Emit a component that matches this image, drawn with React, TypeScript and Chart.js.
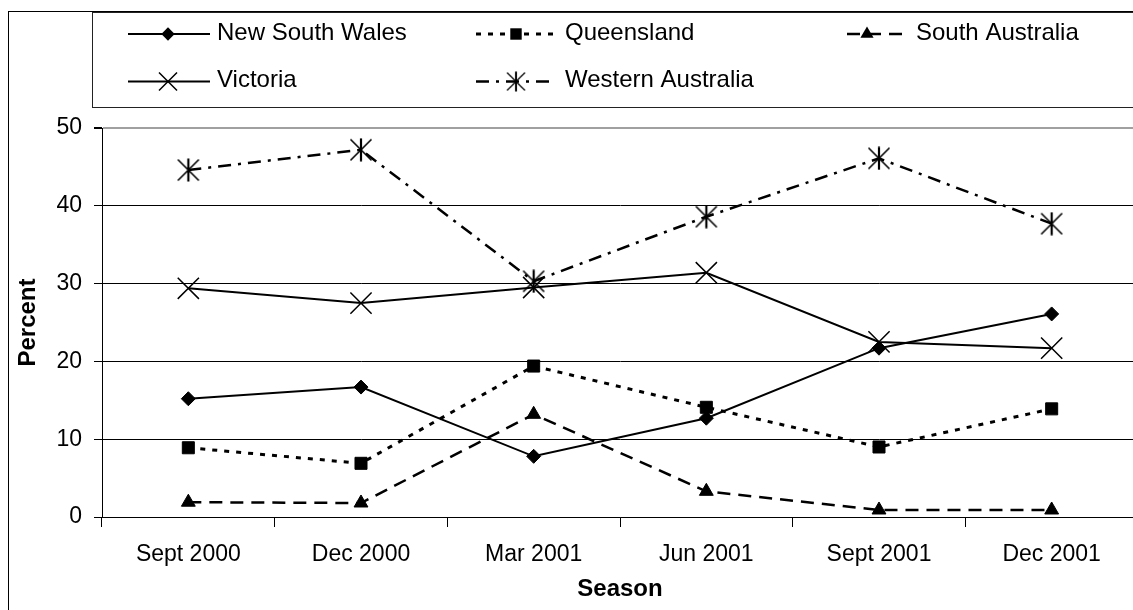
import { useEffect, useRef } from 'react';
import { Chart, registerables } from 'chart.js';

Chart.register(...registerables);

// ---- data ----
const categories = ['Sept 2000', 'Dec 2000', 'Mar 2001', 'Jun 2001', 'Sept 2001', 'Dec 2001'];
const newSouthWales = [15.2, 16.7, 7.8, 12.7, 21.7, 26.1];
const queensland = [8.9, 6.9, 19.4, 14.1, 9.0, 13.9];
const southAustralia = [1.9, 1.8, 13.2, 3.3, 0.9, 0.9];
const victoria = [29.4, 27.5, 29.5, 31.4, 22.5, 21.7];
const westernAustralia = [44.6, 47.2, 30.3, 38.6, 46.1, 37.7];
const seriesLabels = ['New South Wales', 'Queensland', 'South Australia', 'Victoria', 'Western Australia'];
const yMin = 0;
const yMax = 50;
const yStep = 10;
const xTitle = 'Season';
const yTitle = 'Percent';

const FONT = '"Liberation Sans", Arial, Helvetica, sans-serif';

type Marker = 'rectRot' | 'rect' | 'triangle' | 'crossRot' | 'asterisk';
interface SeriesStyle { dash: number[]; width: number; marker: Marker; radius: number; }

const seriesStyles: SeriesStyle[] = [
  { dash: [], width: 2, marker: 'rectRot', radius: 7 },
  { dash: [5, 7], width: 3, marker: 'rect', radius: 8.5 },
  { dash: [13, 8], width: 2.5, marker: 'triangle', radius: 8 },
  { dash: [], width: 2, marker: 'crossRot', radius: 15 },
  { dash: [13, 7, 3, 7], width: 2.5, marker: 'asterisk', radius: 11 },
];

// legend layout (canvas coordinates)
const legendCols = [
  { lineStart: 120, lineEnd: 202, marker: 160, text: 209 },
  { lineStart: 468, lineEnd: 545, marker: 508, text: 557 },
  { lineStart: 839, lineEnd: 899, marker: 859, text: 908 },
];
const legendRows = [23, 70.5];
const legendSlots = [
  { col: 0, row: 0 },
  { col: 1, row: 0 },
  { col: 2, row: 0 },
  { col: 0, row: 1 },
  { col: 1, row: 1 },
];

function makeAsterisk(): HTMLCanvasElement {
  const c = document.createElement('canvas');
  c.width = 24;
  c.height = 24;
  const g = c.getContext('2d')!;
  g.strokeStyle = '#000';
  g.lineWidth = 1.6;
  g.beginPath();
  g.moveTo(1.5, 1.5);
  g.lineTo(22.5, 22.5);
  g.moveTo(22.5, 1.5);
  g.lineTo(1.5, 22.5);
  g.stroke();
  g.lineWidth = 2.2;
  g.beginPath();
  g.moveTo(12, 0.5);
  g.lineTo(12, 23.5);
  g.stroke();
  return c;
}

function drawMarker(ctx: CanvasRenderingContext2D, m: Marker, x: number, y: number, r: number, star: HTMLCanvasElement) {
  ctx.save();
  ctx.fillStyle = '#000';
  ctx.strokeStyle = '#000';
  ctx.setLineDash([]);
  ctx.beginPath();
  if (m === 'rectRot') {
    ctx.moveTo(x, y - r);
    ctx.lineTo(x + r, y);
    ctx.lineTo(x, y + r);
    ctx.lineTo(x - r, y);
    ctx.closePath();
    ctx.fill();
  } else if (m === 'rect') {
    const h = r * Math.SQRT1_2;
    ctx.rect(x - h, y - h, 2 * h, 2 * h);
    ctx.fill();
  } else if (m === 'triangle') {
    ctx.moveTo(x, y - r);
    ctx.lineTo(x + r * Math.sin((2 * Math.PI) / 3), y + r / 2);
    ctx.lineTo(x - r * Math.sin((2 * Math.PI) / 3), y + r / 2);
    ctx.closePath();
    ctx.fill();
  } else if (m === 'crossRot') {
    const o = r * Math.SQRT1_2 * 0.85;
    ctx.lineWidth = 1.5;
    ctx.moveTo(x - o, y - o);
    ctx.lineTo(x + o, y + o);
    ctx.moveTo(x + o, y - o);
    ctx.lineTo(x - o, y + o);
    ctx.stroke();
  } else {
    const s = 0.85;
    ctx.drawImage(star, x - (star.width * s) / 2, y - (star.height * s) / 2, star.width * s, star.height * s);
  }
  ctx.restore();
}

export default function App() {
  const ref = useRef<HTMLCanvasElement | null>(null);

  useEffect(() => {
    if (!ref.current) return;
    const star = makeAsterisk();
    const values = [newSouthWales, queensland, southAustralia, victoria, westernAustralia];

    Chart.defaults.font.family = FONT;
    Chart.defaults.color = '#000';

    const framePlugin = {
      id: 'frameAndLegend',
      afterDraw(chart: any) {
        const ctx: CanvasRenderingContext2D = chart.ctx;
        ctx.save();
        ctx.setLineDash([]);
        ctx.lineWidth = 1;
        ctx.strokeStyle = '#000';
        ctx.strokeRect(0.5, 0.5, chart.width + 20, chart.height + 20);
        ctx.strokeStyle = '#222';
        ctx.strokeRect(84.5, 1.5, chart.width + 20, 95);
        seriesLabels.forEach((label, i) => {
          const st = seriesStyles[i];
          const col = legendCols[legendSlots[i].col];
          const y = legendRows[legendSlots[i].row];
          ctx.save();
          ctx.strokeStyle = '#000';
          ctx.lineWidth = st.width;
          ctx.setLineDash(st.dash);
          ctx.beginPath();
          ctx.moveTo(col.lineStart, y);
          ctx.lineTo(col.lineEnd, y);
          ctx.stroke();
          ctx.restore();
          drawMarker(ctx, st.marker, col.marker, y, st.marker === 'crossRot' ? st.radius : st.radius * 0.95, star);
          ctx.fillStyle = '#000';
          ctx.font = `24px ${FONT}`;
          ctx.textBaseline = 'middle';
          ctx.textAlign = 'left';
          ctx.fillText(label, col.text, y - 0.7);
        });
        ctx.restore();
      },
    };

    const chart = new Chart(ref.current, {
      type: 'line',
      data: {
        labels: categories,
        datasets: seriesLabels.map((label, i) => {
          const st = seriesStyles[i];
          return {
            label,
            data: values[i],
            borderColor: '#000',
            backgroundColor: '#000',
            borderWidth: st.width,
            borderDash: st.dash,
            tension: 0,
            fill: false,
            pointStyle: st.marker === 'asterisk' ? (star as any) : st.marker,
            pointRadius: st.radius,
            pointHoverRadius: st.radius,
            pointBackgroundColor: '#000',
            pointBorderColor: '#000',
            pointBorderWidth: st.marker === 'crossRot' ? 1.5 : 1,
          };
        }),
      },
      options: {
        animation: false,
        responsive: true,
        maintainAspectRatio: false,
        events: [],
        layout: { padding: { top: 117, left: 0, right: 30, bottom: 0 } },
        plugins: {
          legend: { display: false },
          title: { display: false },
          tooltip: { enabled: false },
        },
        scales: {
          x: {
            type: 'category',
            offset: true,
            grid: {
              display: true,
              offset: true,
              drawOnChartArea: false,
              drawTicks: true,
              tickLength: 10,
              color: '#000',
              tickColor: '#000',
            },
            border: { display: true, color: '#000', width: 1 },
            ticks: {
              font: { size: 23, family: FONT },
              color: '#000',
              padding: 14,
              maxRotation: 0,
              autoSkip: false,
            },
            title: {
              display: true,
              text: xTitle,
              font: { size: 24, weight: 'bold', family: FONT },
              color: '#000',
              padding: { top: 0, bottom: 27.6 },
            },
            afterFit(scale: any) {
              scale.height = 114;
            },
          },
          y: {
            min: yMin,
            max: yMax,
            grid: {
              display: true,
              drawTicks: true,
              tickLength: 8,
              color: (c: any) => (c.tick && c.tick.value === yMax ? '#a0a0a0' : '#000'),
              lineWidth: (c: any) => (c.tick && c.tick.value === yMax ? 2 : 1),
              tickColor: '#000',
            },
            border: { display: true, color: '#000', width: 1 },
            ticks: {
              stepSize: yStep,
              font: { size: 23, family: FONT },
              color: '#000',
              padding: 12,
            },
            title: {
              display: true,
              text: yTitle,
              font: { size: 24, weight: 'bold', family: FONT },
              color: '#000',
              padding: { top: 5.6, bottom: 0 },
            },
            afterFit(scale: any) {
              scale.width = 94;
            },
          },
        },
      },
      plugins: [framePlugin],
    });

    return () => chart.destroy();
  }, []);

  return (
    <div style={{ position: 'fixed', left: 0, top: 0, width: 1133, height: 610, overflow: 'hidden', background: '#fff' }}>
      <div style={{ position: 'absolute', left: 8, top: 11, width: 1160, height: 620 }}>
        <canvas ref={ref} />
      </div>
    </div>
  );
}
